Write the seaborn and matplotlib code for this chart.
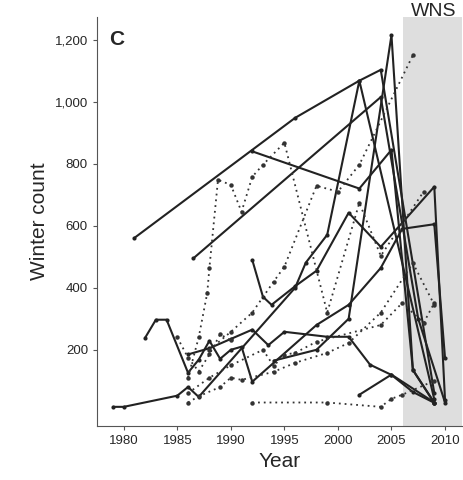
import numpy as np
import pandas as pd
import seaborn as sns
import matplotlib.pyplot as plt
from matplotlib.ticker import FuncFormatter

# colony counts per winter, solid = one survey type, dotted = another
solid_sites = {
    'a': ([1981, 1996, 2002, 2004, 2009], [561, 948, 1068, 1103, 60]),
    'b': ([1986.5, 2004, 2007.5, 2010], [495, 1015, 300, 30]),
    'c': ([1992, 2002, 2005, 2007, 2009], [840, 720, 845, 135, 29]),
    'd': ([1979, 1980, 1985, 1986, 1987, 1996, 1997, 1999, 2002, 2009],
          [16, 16, 52, 80, 48, 400, 481, 571, 1068, 40]),
    'e': ([1982, 1983, 1984, 1986, 1987, 1988, 1989, 1990, 1991, 1992, 1998, 2001, 2004, 2006, 2009, 2010],
          [239, 297, 297, 126, 168, 229, 171, 200, 210, 97, 280, 345, 464, 590, 605, 174]),
    'f': ([1992, 1993, 1993.8, 1996, 1998, 2001, 2004, 2009, 2010],
          [490, 371, 345, 405, 455, 642, 532, 726, 39]),
    'g': ([1986, 1988, 1990, 1992, 1993.5, 1995, 1999, 2001, 2003, 2005, 2007, 2009],
          [185, 205, 235, 265, 215, 258, 242, 242, 152, 119, 64, 29]),
    'h': ([1994, 1998, 2001, 2005, 2007, 2009], [165, 200, 300, 1215, 135, 29]),
    'i': ([2002, 2005, 2009], [55, 120, 30]),
}

dotted_sites = {
    'j': ([1986, 1987, 1987.8, 1988, 1988.8, 1990, 1991, 1992, 1993, 1995, 1999, 2002, 2004, 2008],
          [110, 240, 384, 465, 748, 732, 645, 758, 797, 868, 320, 674, 503, 710]),
    'k': ([1988, 1990, 1992, 1994, 1995, 1998, 2000, 2002, 2007],
          [200, 258, 320, 420, 468, 729, 710, 797, 1150]),
    'l': ([1986, 1988, 1990, 1993, 1994, 1995, 1996, 1998, 2004, 2006, 2008, 2009],
          [60, 110, 150, 200, 148, 184, 190, 226, 280, 351, 287, 351]),
    'm': ([1986, 1987, 1989, 1990, 1991, 1994, 1996, 1999, 2001, 2004, 2007, 2009],
          [30, 50, 80, 110, 103, 129, 158, 190, 222, 320, 480, 345]),
    'n': ([1992, 1999, 2004, 2005, 2006, 2009], [30, 30, 16, 42, 55, 100]),
    'o': ([1985, 1986, 1987, 1988, 1989, 1990], [240, 175, 130, 185, 250, 230]),
}

y_ticks = [200, 400, 600, 800, 1000, 1200]
x_ticks = [1980, 1985, 1990, 1995, 2000, 2005, 2010]
wns_start = 2006.1

sns.set_style("ticks")
plt.rcParams['font.family'] = ['Liberation Sans', 'DejaVu Sans']
fig, ax = plt.subplots(figsize=(4.64, 4.8), dpi=100)
fig.subplots_adjust(left=0.209, right=0.996, top=0.965, bottom=0.113)

ax.axvspan(wns_start, 2011.6, color='#dedede', zorder=0, lw=0)

for name, (yrs, cnt) in solid_sites.items():
    sns.lineplot(x=yrs, y=cnt, ax=ax, color='#222222', lw=1.5, estimator=None, sort=False,
                 marker='o', markersize=3, markeredgewidth=0)

for name, (yrs, cnt) in dotted_sites.items():
    sns.lineplot(x=yrs, y=cnt, ax=ax, color='#333333', lw=1.3, estimator=None, sort=False,
                 linestyle=(0, (1, 2.2)), marker='o', markersize=3.2, markeredgewidth=0)

ax.set_xlim(1977.5, 2011.6)
ax.set_ylim(-45, 1274)
ax.set_xticks(x_ticks)
ax.set_yticks(y_ticks)
ax.yaxis.set_major_formatter(FuncFormatter(lambda v, p: f'{int(v):,}'))
ax.tick_params(labelsize=9.5, length=3, color='#555555')
for s in ['left', 'bottom']:
    ax.spines[s].set_color('#555555')
sns.despine(ax=ax)

ax.set_xlabel('Year', fontsize=15)
ax.set_ylabel('Winter count', fontsize=15)
ax.text(0.055, 0.944, 'C', transform=ax.transAxes, fontsize=15, fontweight='bold',
        ha='center', va='center')
ax.text(2008.9, 1265, 'WNS', fontsize=14, ha='center', va='bottom', clip_on=False)

fig.savefig('out.png', dpi=100)
